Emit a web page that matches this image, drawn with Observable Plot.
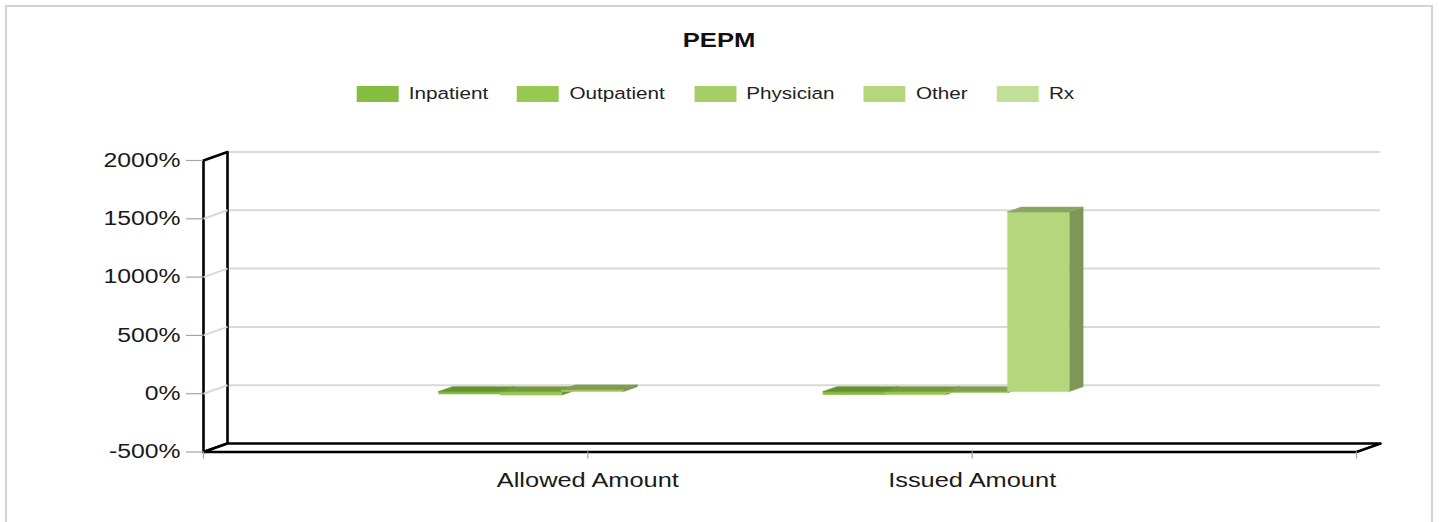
<!DOCTYPE html>
<html>
<head>
<meta charset="utf-8">
<script src="https://cdn.jsdelivr.net/npm/d3@7"></script>
<script src="https://cdn.jsdelivr.net/npm/@observablehq/plot@0.6"></script>
<style>
  html, body { margin: 0; padding: 0; background: #fff; }
  #wrap { position: relative; width: 1439px; height: 522px; overflow: hidden; font-family: "Liberation Sans", Arial, sans-serif; }
  #frame { position: absolute; left: 5px; top: 5px; width: 1428px; height: 540px; border: 2px solid #d3d3d3; box-sizing: border-box; }
  #chart { position: absolute; left: 0; top: 0; }
  #title { position: absolute; left: 0; width: 1439px; top: 28px; text-align: center; font-weight: bold; font-size: 20.5px; color: #111; }
  #title span { display: inline-block; transform: scaleX(1.25); }
  #legend { position: absolute; left: 0; width: 1439px; top: 84px; display: flex; justify-content: center; }
  #legend .inner { display: flex; align-items: center; transform: scaleX(1.27); transform-origin: 50% 50%; margin-left: -8px; }
  #legend .item { display: flex; align-items: center; margin-right: 23px; font-size: 16.3px; color: #222; }
  #legend .item:last-child { margin-right: 0; }
  #legend .sw { width: 33px; height: 16px; margin-right: 8px; }
</style>
</head>
<body>
<div id="wrap">
  <div id="frame"></div>
  <div id="chart"></div>
  <div id="title"><span>PEPM</span></div>
  <div id="legend"><div class="inner"></div></div>
</div>
<script>
// ---- data ----
const title = "PEPM";
const categories = ["Allowed Amount", "Issued Amount"];
const series = ["Inpatient", "Outpatient", "Physician", "Other", "Rx"];
const seriesColors = ["#84bd3f", "#98c752", "#a7cf67", "#b4d77d", "#c2df97"];
const allowedValues = [-20, -30, 15, null, null];   // percent
const issuedValues = [-25, -25, -10, 1540, null];   // percent
const yTicks = [-500, 0, 500, 1000, 1500, 2000];
const yDomain = [-500, 2000];

// ---- layout ----
const W = 1439, H = 522;
const mLeft = 203, mRight = 83, mTop = 160, mBottom = 70.5;
const xDomain = [0, categories.length + 1];
const ux = (xDomain[1] - xDomain[0]) / (W - mLeft - mRight);       // data units per px (x)
const uy = (yDomain[1] - yDomain[0]) / (H - mTop - mBottom);       // data units per px (y)
const DEPTH_PX = [24, -8.5];                                        // 3D wall depth
const ddx = DEPTH_PX[0] * ux, ddy = -DEPTH_PX[1] * uy;
const GROUP_OFF = -155 / 384.33, BAR_W = 61.5 / 384.33;             // fractions of a category
const F0 = 0.25, F1 = 0.83;                                         // bar depth fractions

const valuesByCat = [allowedValues, issuedValues];

// bar faces
const faces = [];
valuesByCat.forEach((vals, ci) => {
  const c = ci + 1;
  vals.forEach((v, si) => {
    if (v == null) return;
    const col = seriesColors[si];
    const top = d3.color(col).darker(0.75).formatHex();
    const side = d3.color(col).darker(1.0).formatHex();
    const xl = c + GROUP_OFF + si * BAR_W, xr = xl + BAR_W;
    const yT = Math.max(v, 0), yB = Math.min(v, 0);
    const fx0 = F0 * ddx, fy0 = F0 * ddy, fx1 = F1 * ddx, fy1 = F1 * ddy;
    const id = `${c}-${si}`;
    const add = (name, color, pts) => pts.forEach(([x, y]) => faces.push({face: id + name, color, x, y}));
    add("s", side, [[xr + fx0, yB + fy0], [xr + fx1, yB + fy1], [xr + fx1, yT + fy1], [xr + fx0, yT + fy0]]);
    add("f", col, [[xl + fx0, yB + fy0], [xr + fx0, yB + fy0], [xr + fx0, yT + fy0], [xl + fx0, yT + fy0]]);
    add("t", top, [[xl + fx0, yT + fy0], [xr + fx0, yT + fy0], [xr + fx1, yT + fy1], [xl + fx1, yT + fy1]]);
  });
});

const x0 = xDomain[0], x1 = xDomain[1], yMin = yDomain[0], yMax = yDomain[1];
const wall = [[x0, yMin], [x0, yMax], [x0 + ddx, yMax + ddy], [x0 + ddx, yMin + ddy]].map(([x, y]) => ({x, y}));
const floor = [[x0, yMin], [x1, yMin], [x1 + ddx, yMin + ddy], [x0 + ddx, yMin + ddy]].map(([x, y]) => ({x, y}));

const plot = Plot.plot({
  width: W, height: H,
  marginLeft: mLeft, marginRight: mRight, marginTop: mTop, marginBottom: mBottom,
  x: {type: "linear", domain: xDomain, axis: null},
  y: {type: "linear", domain: yDomain, axis: null},
  color: {type: "identity"},
  style: {fontFamily: "'Liberation Sans', Arial, sans-serif", overflow: "visible"},
  marks: [
    // back wall gridlines
    Plot.ruleY(yTicks, {y: d => d + ddy, x1: x0 + ddx, x2: x1 + ddx, stroke: "#d9d9d9", strokeWidth: 2}),
    // left wall
    Plot.line(wall, {x: "x", y: "y", curve: "linear-closed", fill: "white", stroke: "black", strokeWidth: 2.6}),
    // side wall gridlines
    Plot.link(yTicks.filter(d => d > yMin && d < yMax), {x1: x0, y1: d => d, x2: x0 + ddx, y2: d => d + ddy, stroke: "#d9d9d9", strokeWidth: 2}),
    // floor
    Plot.line(floor, {x: "x", y: "y", curve: "linear-closed", fill: "white", stroke: "black", strokeWidth: 2.6}),
    // y ticks
    Plot.ruleY(yTicks, {y: d => d, x1: x0 - 17 * ux, x2: x0, stroke: "#a6a6a6", strokeWidth: 1.2}),
    // x ticks
    Plot.ruleX(d3.range(xDomain[0], xDomain[1] + 1), {x: d => d, y1: yMin - 7 * uy, y2: yMin, stroke: "#a6a6a6", strokeWidth: 1.2}),
    // bars
    Plot.line(faces, {x: "x", y: "y", z: "face", curve: "linear-closed", fill: "color", stroke: "color", strokeWidth: 0.6}),
    // y labels
    Plot.text(yTicks, {x: x0, y: d => d, text: d => `${d}%`, textAnchor: "end", dx: -23, fontSize: 19.5, fill: "#1a1a1a"}),
    // x labels
    Plot.text(categories, {x: (d, i) => i + 1, y: yMin, text: d => d, dy: 29, fontSize: 20, fill: "#1a1a1a"})
  ]
});

document.getElementById("chart").appendChild(plot);
// horizontal stretch of the text to match the reference rendering (positions untouched)
plot.querySelectorAll("text").forEach(t => {
  const w = t.getComputedTextLength();
  if (w > 0) {
    t.setAttribute("textLength", (w * 1.27).toFixed(2));
    t.setAttribute("lengthAdjust", "spacingAndGlyphs");
  }
});

// legend
const inner = d3.select("#legend .inner");
series.forEach((s, i) => {
  const it = inner.append("div").attr("class", "item");
  it.append("div").attr("class", "sw").style("background", seriesColors[i]);
  it.append("span").text(s);
});
document.querySelector("#title span").textContent = title;
</script>
</body>
</html>
